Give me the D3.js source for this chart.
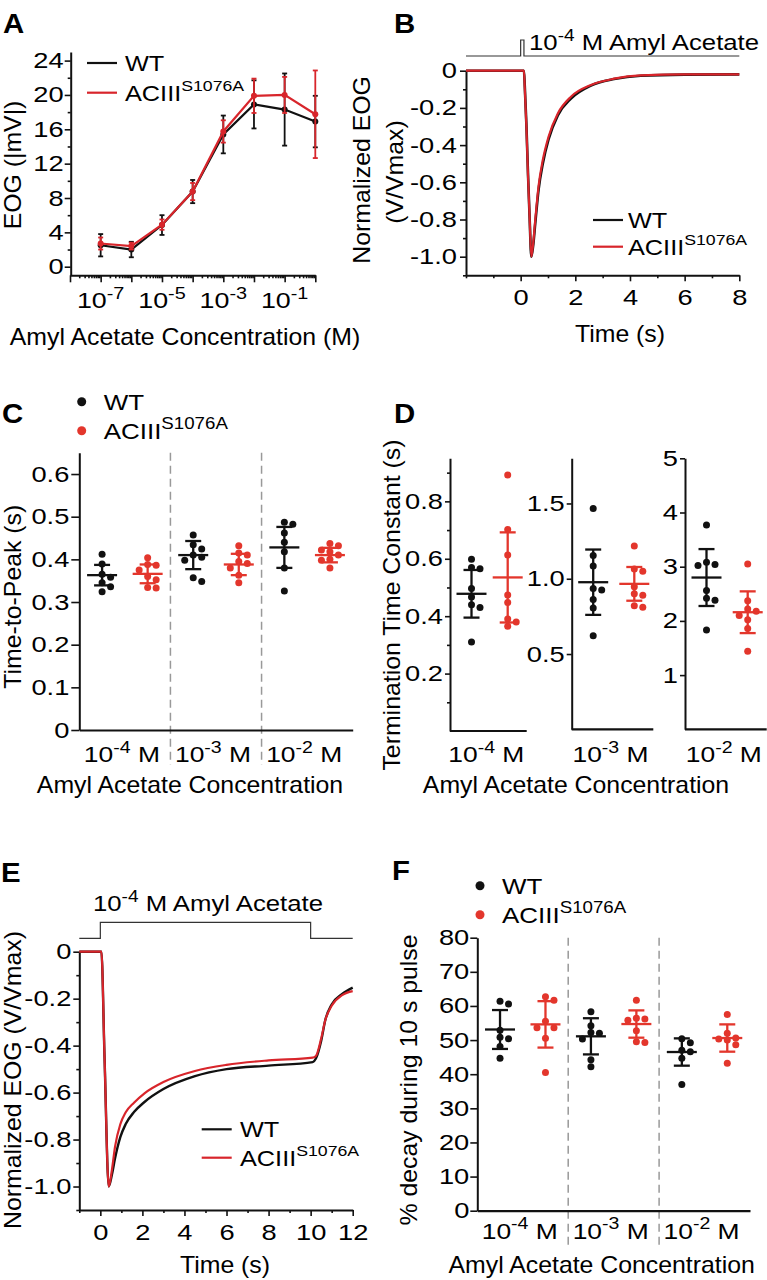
<!DOCTYPE html>
<html><head><meta charset="utf-8">
<script src="https://cdn.jsdelivr.net/npm/d3@7"></script>
<style>body{margin:0;background:#fff}</style>
</head><body>
<svg id="fig" width="767" height="1280"></svg>
<script>
// ---------------- DATA ----------------
// Panel A: dose-response
const concA = [1e-7, 1e-6, 1e-5, 1e-4, 1e-3, 1e-2, 1e-1, 1];
const wtA = [2.5, 2.0, 4.85, 8.75, 15.4, 18.9, 18.3, 16.9];
const wtAerr = [1.3, 0.9, 1.15, 1.35, 2.2, 2.8, 4.2, 3.0];
const mutA = [2.7, 2.4, 4.9, 8.75, 15.75, 19.9, 20.0, 17.75];
const mutAerr = [0.7, 0.4, 0.6, 1.0, 1.3, 2.0, 2.1, 5.1];
const expLabelsA = [-7, -5, -3, -1];
const yTicksA = [0, 4, 8, 12, 16, 20, 24];

// Panel B: normalized trace, short pulse
const timeB = [-2, 0, 0.12, 0.15, 0.21, 0.27, 0.33, 0.39, 0.45, 0.535, 0.655, 0.81, 1.02, 1.36, 1.84, 2.57, 3.42, 4.39, 6, 8];
const wtB  = [0, 0, 0, -0.08, -0.29, -0.56, -0.8, -1.0, -0.95, -0.82, -0.64, -0.5, -0.37, -0.24, -0.15, -0.08, -0.045, -0.027, -0.021, -0.02];
const mutB = [0, 0, 0, -0.09, -0.3, -0.57, -0.8, -1.0, -0.94, -0.8, -0.62, -0.48, -0.355, -0.23, -0.14, -0.077, -0.043, -0.025, -0.02, -0.02];
const stimB = [0, 0.12];

// Panel E: normalized trace, 10 s pulse
const timeE = [-1, 0.05, 0.2, 0.4, 0.55, 0.7, 0.95, 1.2, 1.6, 2.1, 3, 4.5, 6, 8, 10.1, 10.25, 10.5, 10.7, 11, 11.5, 12];
const wtE  = [0, 0, -0.45, -1.0, -0.95, -0.88, -0.79, -0.735, -0.683, -0.64, -0.585, -0.53, -0.5, -0.485, -0.47, -0.455, -0.38, -0.29, -0.225, -0.18, -0.153];
const mutE = [0, 0, -0.45, -1.0, -0.93, -0.83, -0.735, -0.685, -0.643, -0.603, -0.555, -0.508, -0.482, -0.463, -0.451, -0.444, -0.37, -0.29, -0.23, -0.185, -0.168];
const stimE = [0, 10];

// Concentration groups (exponents)
const concExp = [-4, -3, -2];
const genotypes = ["WT", "ACIII"];

// Panel C: time-to-peak (s)
const tpWT  = [[0.412, 0.389, 0.365, 0.358, 0.345, 0.336, 0.324],
               [0.457, 0.434, 0.424, 0.41, 0.405, 0.398, 0.357, 0.348],
               [0.487, 0.482, 0.462, 0.44, 0.418, 0.38, 0.326]];
const tpMut = [[0.404, 0.388, 0.386, 0.375, 0.36, 0.352, 0.334, 0.333],
               [0.432, 0.415, 0.41, 0.395, 0.39, 0.38, 0.363, 0.345],
               [0.437, 0.432, 0.422, 0.418, 0.41, 0.4, 0.398, 0.38]];
const tpWTmean = [0.363, 0.41, 0.428], tpWTsd = [0.024, 0.033, 0.048];
const tpMutmean = [0.366, 0.388, 0.41], tpMutsd = [0.022, 0.025, 0.017];
const yTicksC = [0, 0.1, 0.2, 0.3, 0.4, 0.5, 0.6];

// Panel D: termination time constant (s)
const tcWT  = [[0.598, 0.57, 0.565, 0.496, 0.467, 0.44, 0.43, 0.31],
               [1.467, 1.155, 1.084, 0.935, 0.925, 0.862, 0.806, 0.622],
               [3.77, 3.08, 3.04, 3.02, 2.56, 2.42, 2.38, 1.83]];
const tcMut = [[0.892, 0.702, 0.613, 0.474, 0.448, 0.39, 0.38, 0.365],
               [1.217, 1.064, 1.05, 0.947, 0.9, 0.89, 0.82, 0.81],
               [3.05, 2.37, 2.22, 2.18, 2.1, 2.02, 1.86, 1.44]];
const tcWTmean = [0.478, 0.977, 2.80], tcWTsd = [0.083, 0.217, 0.525];
const tcMutmean = [0.535, 0.966, 2.16], tcMutsd = [0.157, 0.112, 0.385];
const yMaxD = [0.95, 1.8, 5];
const yTicksD = [[0.2, 0.4, 0.6, 0.8], [0.5, 1.0, 1.5], [1, 2, 3, 4, 5]];
const yMinorD = [[0.1, 0.3, 0.5, 0.7, 0.9], [], []];

// Panel F: % decay during 10 s pulse
const dcWT  = [[61.4, 60.6, 52.9, 50.8, 50.4, 48.1, 44.7],
               [58.3, 54.2, 52.2, 52.0, 50.3, 44.2, 42.2],
               [50.4, 49.2, 47.0, 46.6, 44.7, 37.0]];
const dcMut = [[62.7, 61.7, 55.5, 53.6, 53.6, 50.5, 40.5],
               [61.7, 56.4, 56.2, 55.8, 52.7, 49.5, 49.3],
               [57.5, 52.0, 50.6, 50.3, 50.0, 48.6, 43.2]];
const dcWTmean = [53.1, 51.1, 46.5], dcWTsd = [5.7, 5.3, 4.0];
const dcMutmean = [54.6, 54.7, 50.6], dcMutsd = [6.8, 4.0, 4.0];
const yTicksF = [0, 10, 20, 30, 40, 50, 60, 70, 80];

// ---------------- HELPERS ----------------
const FONT = '"Liberation Sans", Arial, Helvetica, sans-serif';
const BLACK = '#111', RED_LINE = '#d8252b', RED_DOT = '#e3362c', GREY = '#999';
const svg = d3.select('#fig');

function rich(parent, x, y, parts, o = {}) {
  const size = o.size || 21, sx = o.sx || 1.2, supScale = o.supScale || 0.74;
  const g = parent.append('g').attr('transform',
    `translate(${x},${y})` + (o.rotate ? ` rotate(${o.rotate})` : '') + ` scale(${sx},1)`);
  const t = g.append('text').attr('font-family', FONT).attr('font-size', size)
    .attr('text-anchor', o.anchor || 'start').attr('font-weight', o.weight || 'normal').attr('fill', '#000');
  const list = typeof parts === 'string' ? [{t: parts}] : parts;
  let up = 0;
  list.forEach(p => {
    const ts = t.append('tspan').text(p.t);
    if (p.sup) { const s = size * 0.42; ts.attr('font-size', size * supScale).attr('dy', -s); up = s; }
    else if (up) { ts.attr('dy', up); up = 0; }
  });
  return g;
}
const concParts = e => [{t: '10'}, {t: '-' + Math.abs(e), sup: true}, {t: ' M'}];
const mutParts = [{t: 'ACIII'}, {t: 'S1076A', sup: true}];

function styleAxis(g, sx = 1.24) {
  g.selectAll('.domain').attr('stroke', BLACK).attr('stroke-width', 2);
  g.selectAll('.tick line').attr('stroke', BLACK).attr('stroke-width', 1.6);
  g.selectAll('.tick text').attr('fill', '#000').attr('font-size', 22).attr('font-family', FONT).each(function () {
    const t = d3.select(this); const x = +(t.attr('x') || 0);
    t.attr('x', x / sx).attr('transform', `scale(${sx},1)`);
  });
}
function yAxis(parent, scale, x, major, minor, fmt, size, pad) {
  const g = parent.append('g').attr('transform', `translate(${x},0)`);
  if (minor && minor.length) g.append('g').call(d3.axisLeft(scale).tickValues(minor).tickSize(3).tickFormat('').tickSizeOuter(0))
    .call(s => s.select('.domain').remove());
  g.append('g').call(d3.axisLeft(scale).tickValues(major).tickSize(size).tickPadding(pad).tickFormat(fmt).tickSizeOuter(0));
  styleAxis(g);
  return g;
}
function xAxis(parent, scale, y, major, minor, fmt, size, pad) {
  const g = parent.append('g').attr('transform', `translate(0,${y})`);
  if (minor && minor.length) g.append('g').call(d3.axisBottom(scale).tickValues(minor).tickSize(3).tickFormat('').tickSizeOuter(0))
    .call(s => s.select('.domain').remove());
  g.append('g').call(d3.axisBottom(scale).tickValues(major).tickSize(size).tickPadding(pad).tickFormat(fmt).tickSizeOuter(0));
  styleAxis(g);
  return g;
}
const fmtDec = d => d === 0 ? '0' : d.toFixed(1);
function range(a, b, step) { const r = []; for (let v = a; v <= b + 1e-9; v += step) r.push(+v.toFixed(6)); return r; }

function swarm(vals, yScale, cx, r) {
  const pts = vals.map(v => ({v, y: yScale(v)})).sort((a, b) => a.y - b.y);
  const placed = [], step = 2 * r + 1.5;
  pts.forEach(p => {
    const cands = [0, step, -step, 2 * step, -2 * step, 3 * step];
    for (const c of cands) {
      const ok = placed.every(q => (q.x - (cx + c)) ** 2 + (q.y - p.y) ** 2 >= (2 * r) ** 2 * 0.95);
      if (ok) { p.x = cx + c; break; }
    }
    if (p.x === undefined) p.x = cx;
    placed.push(p);
  });
  return placed;
}
function dotGroup(g, vals, mean, sd, yScale, cx, color) {
  const r = 3.5;
  swarm(vals, yScale, cx, r).forEach(p => g.append('circle').attr('cx', p.x).attr('cy', p.y).attr('r', r).attr('fill', color));
  const lw = 2.3;
  g.append('line').attr('x1', cx - 15).attr('x2', cx + 15).attr('y1', yScale(mean)).attr('y2', yScale(mean)).attr('stroke', color).attr('stroke-width', lw);
  g.append('line').attr('x1', cx).attr('x2', cx).attr('y1', yScale(mean - sd)).attr('y2', yScale(mean + sd)).attr('stroke', color).attr('stroke-width', lw);
  [mean - sd, mean + sd].forEach(v => g.append('line').attr('x1', cx - 8).attr('x2', cx + 8).attr('y1', yScale(v)).attr('y2', yScale(v)).attr('stroke', color).attr('stroke-width', lw));
}
function lineLegend(g, x1, x2, y, color, tx, parts) {
  g.append('line').attr('x1', x1).attr('x2', x2).attr('y1', y).attr('y2', y).attr('stroke', color).attr('stroke-width', 2.2);
  rich(g, tx, y + 8, parts, {size: 22, sx: 1.15, supScale: 0.7});
}
function dotLegend(g, x, y, color, tx, parts) {
  g.append('circle').attr('cx', x).attr('cy', y).attr('r', 4.5).attr('fill', color);
  rich(g, tx, y + 8, parts, {size: 22, sx: 1.18, supScale: 0.72});
}
function panelLetter(t, x, y) { rich(svg, x, y, t, {size: 28, sx: 1.05, weight: 'bold'}); }
const TITLE = {size: 23, sx: 1.08};

// ---------------- PANEL A ----------------
{
  const g = svg.append('g');
  const x = d3.scaleLog().domain([1e-8, 1]).range([70, 315.3]);
  const y = d3.scaleLinear().domain([-1, 25]).range([275.3, 52]);
  const decades = d3.range(-8, 1).map(e => Math.pow(10, e));
  const minors = [];
  d3.range(-8, 0).forEach(e => { for (let k = 2; k <= 9; k++) minors.push(k * Math.pow(10, e)); });
  yAxis(g, y, 70.7, yTicksA, range(2, 22, 4), d3.format('d'), 6, 1);
  xAxis(g, x, 275.3, decades, minors, '', 7, 0);
  expLabelsA.forEach(e => rich(g, x(Math.pow(10, e)), 308, [{t: '10'}, {t: '-' + Math.abs(e), sup: true}], {anchor: 'middle', size: 22, sx: 1.22}));
  const series = [[wtA, wtAerr, BLACK], [mutA, mutAerr, RED_LINE]];
  series.forEach(([vals, errs, col]) => {
    const pts = concA.map((c, i) => [x(c), y(vals[i])]);
    g.append('path').attr('d', d3.line()(pts)).attr('fill', 'none').attr('stroke', col).attr('stroke-width', 2.2);
    concA.forEach((c, i) => {
      const cx = x(c);
      g.append('line').attr('x1', cx).attr('x2', cx).attr('y1', y(vals[i] - errs[i])).attr('y2', y(vals[i] + errs[i])).attr('stroke', col).attr('stroke-width', 1.8);
      [vals[i] - errs[i], vals[i] + errs[i]].forEach(v => g.append('line').attr('x1', cx - 2.5).attr('x2', cx + 2.5).attr('y1', y(v)).attr('y2', y(v)).attr('stroke', col).attr('stroke-width', 1.8));
      g.append('circle').attr('cx', cx).attr('cy', y(vals[i])).attr('r', 3).attr('fill', col);
    });
  });
  lineLegend(g, 87, 117, 63, BLACK, 125, 'WT');
  lineLegend(g, 87, 117, 92.7, RED_LINE, 125, mutParts);
  rich(g, 21, 165, 'EOG (|mV|)', Object.assign({anchor: 'middle', rotate: -90}, TITLE));
  rich(g, 185, 344.7, 'Amyl Acetate Concentration (M)', Object.assign({anchor: 'middle'}, TITLE));
  panelLetter('A', 3, 33);
}

// ---------------- PANEL B ----------------
{
  const g = svg.append('g');
  const x = d3.scaleLinear().domain([-2, 8]).range([466, 739.3]);
  const y = d3.scaleLinear().domain([-1.1, 0]).range([275.3, 70.7]);
  yAxis(g, y, 466, range(-1.0, 0, 0.2), range(-1.1, -0.1, 0.2), fmtDec, 6, 3);
  xAxis(g, x, 275.3, [0, 2, 4, 6, 8], [-2, -1, 1, 3, 5, 7], d3.format('d'), 6, 8);
  const line = d3.line().x((d, i) => x(timeB[i])).y(d => y(d)).curve(d3.curveMonotoneX);
  g.append('path').attr('d', line(wtB)).attr('fill', 'none').attr('stroke', BLACK).attr('stroke-width', 2.6);
  g.append('path').attr('d', line(mutB)).attr('fill', 'none').attr('stroke', RED_LINE).attr('stroke-width', 2.2);
  const base = 56, top = 40;
  const sp = [[x(-2), base], [x(stimB[0]), base], [x(stimB[0]), top], [x(stimB[1]), top], [x(stimB[1]), base], [x(8), base]];
  g.append('path').attr('d', d3.line()(sp)).attr('fill', 'none').attr('stroke', '#333').attr('stroke-width', 1.2);
  rich(g, 529, 50, [{t: '10'}, {t: '-4', sup: true}, {t: ' M Amyl Acetate'}], {size: 22, sx: 1.17});
  lineLegend(g, 593, 623, 220, BLACK, 628, 'WT');
  lineLegend(g, 593, 623, 246.7, RED_LINE, 628, mutParts);
  rich(g, 370, 170, 'Normalized EOG', Object.assign({anchor: 'middle', rotate: -90}, TITLE));
  rich(g, 403, 172, '(V/Vmax)', Object.assign({anchor: 'middle', rotate: -90}, TITLE));
  rich(g, 620, 341.7, 'Time (s)', Object.assign({anchor: 'middle'}, TITLE));
  panelLetter('B', 394, 33);
}

// ---------------- scatter panels (C and F) ----------------
function scatterPanel(o) {
  const g = svg.append('g');
  const keys = [];
  concExp.forEach(e => genotypes.forEach(gt => keys.push(e + gt)));
  const x = d3.scaleBand().domain(keys).range([o.x0, o.x1]);
  const y = d3.scaleLinear().domain(o.domain).range([o.yb, o.yt]);
  concExp.slice(0, -1).forEach(e => {
    const sx = x(e + genotypes[1]) + x.bandwidth();
    g.append('line').attr('x1', sx).attr('x2', sx).attr('y1', o.yt).attr('y2', o.sepBottom)
      .attr('stroke', GREY).attr('stroke-width', 1.5).attr('stroke-dasharray', '8,5');
  });
  yAxis(g, y, o.x0, o.ticks, null, o.fmt, o.tick, o.pad);
  g.append('g').attr('transform', `translate(0,${o.yb})`).call(d3.axisBottom(x).tickSize(0).tickFormat(''))
    .call(s => s.select('.domain').attr('stroke', BLACK).attr('stroke-width', 2.2));
  concExp.forEach((e, i) => {
    dotGroup(g, o.wt[i], o.wtMean[i], o.wtSd[i], y, x(e + 'WT') + x.bandwidth() / 2, BLACK);
    dotGroup(g, o.mut[i], o.mutMean[i], o.mutSd[i], y, x(e + 'ACIII') + x.bandwidth() / 2, RED_DOT);
    const c = x(e + 'WT') + x.bandwidth();
    rich(g, c - 3, o.labelY, concParts(e), {anchor: 'middle', size: 22, sx: 1.2});
  });
  dotLegend(g, o.legX, o.legY, BLACK, o.legX + 22, 'WT');
  dotLegend(g, o.legX, o.legY + 29, RED_DOT, o.legX + 22, mutParts);
  rich(g, o.ytX, o.ytY, o.ytitle, Object.assign({anchor: 'middle', rotate: -90}, TITLE));
  rich(g, o.xtX, o.xtY, 'Amyl Acetate Concentration', Object.assign({anchor: 'middle'}, TITLE));
}
scatterPanel({x0: 79.3, x1: 352.7, yb: 730, yt: 452.7, domain: [0, 0.65], ticks: yTicksC, fmt: fmtDec, tick: 8, pad: 2,
  sepBottom: 765, wt: tpWT, mut: tpMut, wtMean: tpWTmean, wtSd: tpWTsd, mutMean: tpMutmean, mutSd: tpMutsd,
  labelY: 762, legX: 81.7, legY: 401.7, ytitle: 'Time-to-Peak (s)', ytX: 21, ytY: 596.7, xtX: 190, xtY: 793});
panelLetter('C', 2, 423);

scatterPanel({x0: 477.3, x1: 750, yb: 1210.7, yt: 937.7, domain: [0, 80], ticks: yTicksF, fmt: d3.format('d'), tick: 7, pad: 1,
  sepBottom: 1245, wt: dcWT, mut: dcMut, wtMean: dcWTmean, wtSd: dcWTsd, mutMean: dcMutmean, mutSd: dcMutsd,
  labelY: 1238.5, legX: 480, legY: 885.7, ytitle: '% decay during 10 s pulse', ytX: 417, ytY: 1080, xtX: 601.7, xtY: 1273});
panelLetter('F', 392, 880);

// ---------------- PANEL D ----------------
{
  const g = svg.append('g');
  const subX = [[450, 526.7], [571.7, 653.3], [685, 766.7]];
  const yBot = [731, 729.3, 729.3];
  concExp.forEach((e, i) => {
    const [x0, x1] = subX[i];
    const y = d3.scaleLinear().domain([0, yMaxD[i]]).range([yBot[i], 458.3]);
    const x = d3.scalePoint().domain(genotypes).range([x0 + 21.5, x1 - 19]);
    yAxis(g, y, x0, yTicksD[i], yMinorD[i], i === 2 ? d3.format('d') : fmtDec, 5, 2);
    g.append('line').attr('x1', x0).attr('x2', x1).attr('y1', yBot[i]).attr('y2', yBot[i]).attr('stroke', BLACK).attr('stroke-width', 2.2);
    dotGroup(g, tcWT[i], tcWTmean[i], tcWTsd[i], y, x('WT'), BLACK);
    dotGroup(g, tcMut[i], tcMutmean[i], tcMutsd[i], y, x('ACIII'), RED_DOT);
    rich(g, (x0 + x1) / 2 - 2, 762, concParts(e), {anchor: 'middle', size: 22, sx: 1.2});
  });
  rich(g, 400, 605, 'Termination Time Constant (s)', Object.assign({anchor: 'middle', rotate: -90}, TITLE));
  rich(g, 576, 793, 'Amyl Acetate Concentration', Object.assign({anchor: 'middle'}, TITLE));
  panelLetter('D', 394, 423);
}

// ---------------- PANEL E ----------------
{
  const g = svg.append('g');
  const x = d3.scaleLinear().domain([-1, 12]).range([79.3, 352.7]);
  const y = d3.scaleLinear().domain([-1.1, 0]).range([1210, 951.7]);
  yAxis(g, y, 79.3, range(-1.0, 0, 0.2), range(-1.1, -0.1, 0.2), fmtDec, 6, 2);
  xAxis(g, x, 1210, range(0, 12, 2), range(-1, 11, 2), d3.format('d'), 6, 8);
  const line = d3.line().x((d, i) => x(timeE[i])).y(d => y(d)).curve(d3.curveMonotoneX);
  g.append('path').attr('d', line(wtE)).attr('fill', 'none').attr('stroke', BLACK).attr('stroke-width', 2.4);
  g.append('path').attr('d', line(mutE)).attr('fill', 'none').attr('stroke', RED_LINE).attr('stroke-width', 2.2);
  const base = 938.3, top = 922.3;
  const sp = [[x(-1), base], [x(stimE[0]), base], [x(stimE[0]), top], [x(stimE[1]), top], [x(stimE[1]), base], [x(12), base]];
  g.append('path').attr('d', d3.line()(sp)).attr('fill', 'none').attr('stroke', '#333').attr('stroke-width', 1.2);
  rich(g, 208, 911, [{t: '10'}, {t: '-4', sup: true}, {t: ' M Amyl Acetate'}], {anchor: 'middle', size: 22, sx: 1.17});
  lineLegend(g, 201.7, 231.7, 1129.3, BLACK, 240, 'WT');
  lineLegend(g, 201.7, 231.7, 1157.7, RED_LINE, 240, mutParts);
  rich(g, 21, 1080, 'Normalized EOG (V/Vmax)', Object.assign({anchor: 'middle', rotate: -90}, TITLE));
  rich(g, 225, 1273, 'Time (s)', Object.assign({anchor: 'middle'}, TITLE));
  panelLetter('E', 1, 882);
}
</script>
</body></html>
